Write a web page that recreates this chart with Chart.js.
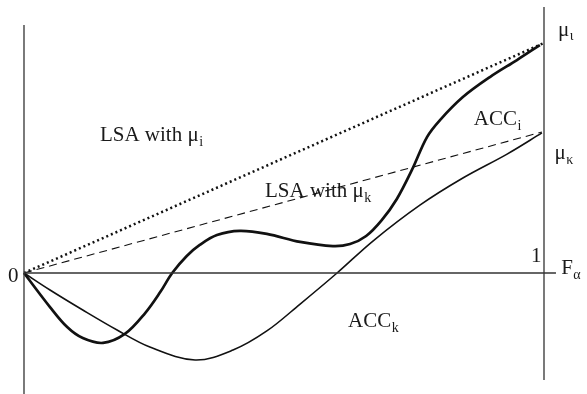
<!DOCTYPE html>
<html>
<head>
<meta charset="utf-8">
<script src="https://cdn.jsdelivr.net/npm/chart.js@4/dist/chart.umd.min.js"></script>
<style>
  html, body { margin: 0; padding: 0; background: #fff; }
  #wrap { width: 587px; height: 394px; }
</style>
</head>
<body>
<div id="wrap"><canvas id="myChart" width="587" height="394"></canvas></div>
<script>
// share of capital F (0..1) against the accumulated curves
var accI_x = [0, 0.05, 0.083, 0.113, 0.152, 0.194, 0.233, 0.262, 0.285, 0.313, 0.338, 0.371, 0.415, 0.467, 0.531, 0.594, 0.627, 0.658, 0.688, 0.717, 0.746, 0.775, 0.8, 0.844, 0.896, 0.948, 0.992];
var accI_y = [0, -0.148, -0.235, -0.283, -0.304, -0.265, -0.174, -0.083, 0, 0.074, 0.122, 0.165, 0.183, 0.17, 0.135, 0.117, 0.126, 0.161, 0.23, 0.322, 0.448, 0.591, 0.665, 0.765, 0.852, 0.926, 0.991];

var accK_x = [0, 0.05, 0.113, 0.179, 0.242, 0.329, 0.402, 0.467, 0.531, 0.602, 0.671, 0.762, 0.844, 0.929, 0.996];
var accK_y = [0, -0.074, -0.161, -0.248, -0.322, -0.378, -0.335, -0.252, -0.135, 0, 0.139, 0.296, 0.413, 0.517, 0.609];

// straight LSA lines from the origin
var lsaI_x = [0, 1];
var lsaI_y = [0, 1];
var lsaK_x = [0, 0.996];
var lsaK_y = [0, 0.613];

// axis frame
var leftAxis = [{x: 0, y: 1.078}, {x: 0, y: -0.53}];
var rightAxis = [{x: 1, y: 1.157}, {x: 1, y: -0.465}];
var baseAxis = [{x: 0, y: 0}, {x: 1.023, y: 0}];

var toPoints = function(xs, ys) {
    return xs.map(function(x, i) { return {x: x, y: ys[i]}; });
};

var lineSet = function(o) {
    return {
        label: o.label,
        data: o.data,
        showLine: true,
        pointRadius: 0,
        borderColor: o.color || '#111',
        borderWidth: o.width,
        borderDash: o.dash || [],
        tension: o.smooth ? 0.35 : 0,
        fill: false
    };
};

// text: [main, sub, x, y, subDrop] in data units, baseline-anchored
var labels = [
    ['0', '', -0.031, -0.039, 0],
    ['LSA with \u03bc', 'i', 0.146, 0.574, 5],
    ['LSA with \u03bc', 'k', 0.4635, 0.33, 5],
    ['ACC', 'i', 0.865, 0.643, 5],
    ['ACC', 'k', 0.623, -0.235, 5],
    ['\u03bc', '\u03b9', 1.027, 1.03, 4],
    ['\u03bc', '\u03ba', 1.02, 0.496, 5],
    ['1', '', 0.975, 0.048, 0],
    ['F', '\u03b1', 1.033, -0.004, 5]
];

var serif = '"Liberation Serif", "Times New Roman", serif';

var textPlugin = {
    id: 'textLabels',
    afterDatasetsDraw: function(chart) {
        var ctx = chart.ctx;
        var sx = chart.scales.x, sy = chart.scales.y;
        ctx.save();
        ctx.fillStyle = '#1a1a1a';
        ctx.textBaseline = 'alphabetic';
        ctx.textAlign = 'left';
        labels.forEach(function(l) {
            var px = sx.getPixelForValue(l[2]);
            var py = sy.getPixelForValue(l[3]);
            ctx.font = '21px ' + serif;
            ctx.fillText(l[0], px, py);
            if (l[1]) {
                var w = ctx.measureText(l[0]).width;
                ctx.font = '14px ' + serif;
                ctx.fillText(l[1], px + w + 0.5, py + l[4]);
            }
        });
        ctx.restore();
    }
};

new Chart(document.getElementById('myChart'), {
    type: 'scatter',
    data: {
        datasets: [
            lineSet({label: 'left', data: leftAxis, width: 1.3, color: '#333'}),
            lineSet({label: 'right', data: rightAxis, width: 1.3, color: '#333'}),
            lineSet({label: 'F', data: baseAxis, width: 1.3, color: '#333'}),
            lineSet({label: 'LSA mu_i', data: toPoints(lsaI_x, lsaI_y), width: 2.5, dash: [2, 3]}),
            lineSet({label: 'LSA mu_k', data: toPoints(lsaK_x, lsaK_y), width: 1.1, dash: [8, 5]}),
            lineSet({label: 'ACC_i', data: toPoints(accI_x, accI_y), width: 2.7, smooth: true}),
            lineSet({label: 'ACC_k', data: toPoints(accK_x, accK_y), width: 1.6, smooth: true})
        ]
    },
    options: {
        responsive: false,
        animation: false,
        layout: { padding: 0 },
        plugins: { legend: { display: false }, tooltip: { enabled: false } },
        scales: {
            x: { type: 'linear', min: -0.04615, max: 1.08269, display: false },
            y: { type: 'linear', min: -0.52609, max: 1.18696, display: false }
        }
    },
    plugins: [textPlugin]
});
</script>
</body>
</html>
